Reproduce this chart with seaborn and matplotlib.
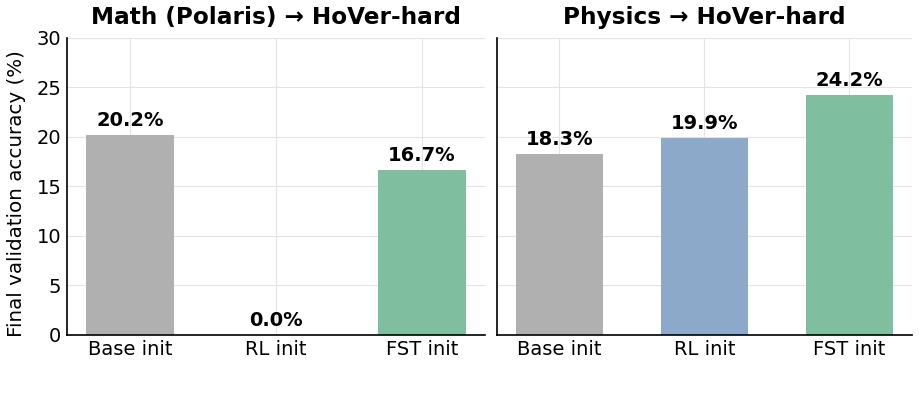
import matplotlib
matplotlib.use("Agg")
import matplotlib.pyplot as plt
import seaborn as sns
import pandas as pd

categories = ["Base init", "RL init", "FST init"]
math_values = [20.2, 0.0, 16.7]
physics_values = [18.3, 19.9, 24.2]
titles = ["Math (Polaris) \u2192 HoVer-hard", "Physics \u2192 HoVer-hard"]
colors = ["#b0b0b0", "#8da9c9", "#7fbf9f"]
yticks = [0, 5, 10, 15, 20, 25, 30]

sns.set_style("white")
plt.rcParams['font.family'] = ['DejaVu Sans']
plt.rcParams['text.color'] = 'black'
plt.rcParams['axes.labelcolor'] = 'black'
plt.rcParams['xtick.color'] = 'black'
plt.rcParams['ytick.color'] = 'black'

fig = plt.figure(figsize=(9.2, 4.04), dpi=100)
ax1 = fig.add_axes([0.0728, 0.171, 0.4542, 0.735])
ax2 = fig.add_axes([0.540, 0.171, 0.451, 0.735], sharey=ax1)

for ax, vals, title in [(ax1, math_values, titles[0]), (ax2, physics_values, titles[1])]:
    df = pd.DataFrame({"cat": categories, "val": vals})
    sns.barplot(data=df, x="cat", y="val", hue="cat", palette=colors,
                width=0.6, legend=False, ax=ax, saturation=1, linewidth=0)
    ax.set_xlim(-0.43, 2.43)
    ax.set_ylim(0, 30)
    ax.set_yticks(yticks)
    ax.grid(True, color="#e3e3e3", linewidth=0.8)
    ax.set_axisbelow(True)
    for s in ["top", "right"]:
        ax.spines[s].set_visible(False)
    for s in ["left", "bottom"]:
        ax.spines[s].set_color("black")
        ax.spines[s].set_linewidth(1.2)
    ax.set_title(title, fontsize=16.7, fontweight="bold", pad=10, color="black")
    ax.set_xlabel("")
    ax.tick_params(axis="both", labelsize=14, length=0, pad=4, colors="black")
    for i, v in enumerate(vals):
        ax.text(i, v + 0.5, f"{v:.1f}%", ha="center", va="bottom",
                fontsize=14, fontweight="bold", color="black")

ax1.set_ylabel("Final validation accuracy (%)", fontsize=14.3, color="black")
ax1.yaxis.set_label_coords(-0.098, 0.475)
ax2.set_ylabel("")
plt.setp(ax2.get_yticklabels(), visible=False)

fig.savefig("out.png", dpi=100)
